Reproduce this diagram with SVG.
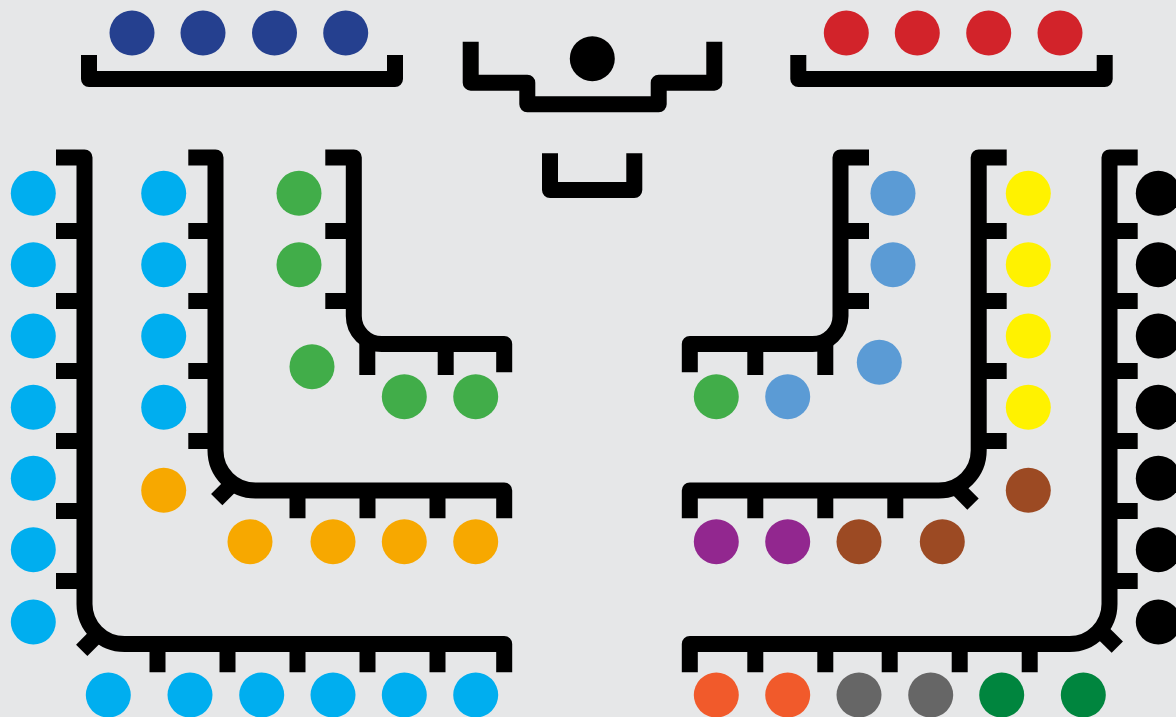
<svg xmlns="http://www.w3.org/2000/svg" width="1176" height="717" viewBox="0 0 1176 717">
<style>
.b{fill:none;stroke:#000;stroke-width:16;stroke-linejoin:round;stroke-linecap:butt}
.s{r:22.5}
.sky{fill:#00aeef}.navy{fill:#25408f}.red{fill:#d2232a}.grn{fill:#41ad49}.org{fill:#f7a800}
.lb{fill:#5b9bd5}.yel{fill:#fff200}.brn{fill:#9c4a23}.pur{fill:#92278f}.blk{fill:#000}
.ore{fill:#f15a2b}.gry{fill:#666666}.dg{fill:#00853e}
</style>
<rect width="1176" height="717" fill="#e6e7e8"/>
<g id="benches">
  <g id="bench-top-left"><path class="b" d="M89,55 V79 H395 V55"/></g>
  <g id="bench-top-right"><path class="b" d="M798.3,55 V79 H1104.7 V55"/></g>
  <g id="speaker-bench"><path class="b" d="M470.7,41.7 V82.7 H527.3 V104.3 H658.7 V82.7 H714.3 V41.7"/></g>
  <g id="clerk-table"><path class="b" d="M550,153.3 V190 H634.3 V153.3"/></g>
  <g id="bench-L1">
    <path class="b" d="M56,157.5 H84.5 V604 A40,40 0 0 0 124.5,644 H504.2 V672.3"/>
    <path class="b" d="M56,231H84.5M56,301H84.5M56,371H84.5M56,441H84.5M56,511H84.5M56,581H84.5"/>
    <path class="b" d="M157.5,644V672.3M227.5,644V672.3M297.5,644V672.3M367.5,644V672.3M437.5,644V672.3"/>
    <path class="b" d="M97,635 L81.7,650.3"/>
  </g>
  <g id="bench-L2">
    <path class="b" d="M188.3,157.5 H215.5 V450.5 A40,40 0 0 0 255.5,490.5 H504.2 V518.3"/>
    <path class="b" d="M188.3,231H215.5M188.3,301H215.5M188.3,371H215.5M188.3,441H215.5"/>
    <path class="b" d="M297.5,490.5V518.3M367.5,490.5V518.3M437.5,490.5V518.3"/>
    <path class="b" d="M233,483.4 L216.7,499.7"/>
  </g>
  <g id="bench-L3">
    <path class="b" d="M325.3,157.5 H353.8 V316 A28,28 0 0 0 381.8,344 H504.2 V372.3"/>
    <path class="b" d="M325.3,231H353.8M325.3,301H353.8"/>
    <path class="b" d="M367.3,336V375M445.7,344V375"/>
  </g>
  <g id="bench-R3">
    <path class="b" d="M869,157.5 H840.5 V316 A28,28 0 0 1 812.5,344 H689.8 V372.3"/>
    <path class="b" d="M869,231H840.5M869,301H840.5"/>
    <path class="b" d="M755.3,344V375M825.3,336V375"/>
  </g>
  <g id="bench-R2">
    <path class="b" d="M1006.7,157.5 H978.7 V450.5 A40,40 0 0 1 938.7,490.5 H689.8 V518.3"/>
    <path class="b" d="M1006.7,231H978.7M1006.7,301H978.7M1006.7,371H978.7M1006.7,441H978.7"/>
    <path class="b" d="M755.3,490.5V518.3M825.3,490.5V518.3M895.3,490.5V518.3"/>
    <path class="b" d="M958,489 L973,504.2"/>
  </g>
  <g id="bench-R1">
    <path class="b" d="M1137.7,157.5 H1109.5 V604 A40,40 0 0 1 1069.5,644 H689.8 V672.3"/>
    <path class="b" d="M1137.7,231H1109.5M1137.7,301H1109.5M1137.7,371H1109.5M1137.7,441H1109.5M1137.7,511H1109.5M1137.7,581H1109.5"/>
    <path class="b" d="M755.3,644V672.3M825.3,644V672.3M889.7,644V672.3M959.7,644V672.3M1029.7,644V672.3"/>
    <path class="b" d="M1100,630 L1117.3,647.2"/>
  </g>
</g>
<g id="seats">
  <g id="speaker"><circle class="blk" cx="592.3" cy="58.7" r="22.5"/></g>
  <g id="party-navy" class="navy">
    <circle cx="132" cy="33" r="22.5"/><circle cx="203" cy="33" r="22.5"/><circle cx="274.5" cy="33" r="22.5"/><circle cx="345.7" cy="33" r="22.5"/>
  </g>
  <g id="party-red" class="red">
    <circle cx="846.3" cy="33" r="22.5"/><circle cx="917.3" cy="33" r="22.5"/><circle cx="988.7" cy="33" r="22.5"/><circle cx="1060" cy="33" r="22.5"/>
  </g>
  <g id="party-skyblue" class="sky">
    <circle cx="33.3" cy="193.3" r="22.5"/><circle cx="33.3" cy="264.7" r="22.5"/><circle cx="33.3" cy="336" r="22.5"/><circle cx="33.3" cy="407.3" r="22.5"/><circle cx="33.3" cy="478.3" r="22.5"/><circle cx="33.3" cy="549.7" r="22.5"/><circle cx="33.3" cy="622" r="22.5"/>
    <circle cx="163.7" cy="193.3" r="22.5"/><circle cx="163.7" cy="264.7" r="22.5"/><circle cx="163.7" cy="336" r="22.5"/><circle cx="163.7" cy="407.3" r="22.5"/>
    <circle cx="108.3" cy="695" r="22.5"/><circle cx="190" cy="695" r="22.5"/><circle cx="261.7" cy="695" r="22.5"/><circle cx="333" cy="695" r="22.5"/><circle cx="404.3" cy="695" r="22.5"/><circle cx="475.7" cy="695" r="22.5"/>
  </g>
  <g id="party-orange" class="org">
    <circle cx="163.7" cy="490.3" r="22.5"/><circle cx="250" cy="541.7" r="22.5"/><circle cx="333" cy="541.7" r="22.5"/><circle cx="404.3" cy="541.7" r="22.5"/><circle cx="475.7" cy="541.7" r="22.5"/>
  </g>
  <g id="party-green" class="grn">
    <circle cx="299" cy="193.3" r="22.5"/><circle cx="299" cy="264.7" r="22.5"/><circle cx="312" cy="366.7" r="22.5"/><circle cx="404.3" cy="396.7" r="22.5"/><circle cx="475.7" cy="396.7" r="22.5"/><circle cx="716.3" cy="396.7" r="22.5"/>
  </g>
  <g id="party-lightblue" class="lb">
    <circle cx="893" cy="193.3" r="22.5"/><circle cx="893" cy="264.7" r="22.5"/><circle cx="879.3" cy="362.3" r="22.5"/><circle cx="787.7" cy="396.7" r="22.5"/>
  </g>
  <g id="party-yellow" class="yel">
    <circle cx="1028.3" cy="193.3" r="22.5"/><circle cx="1028.3" cy="264.7" r="22.5"/><circle cx="1028.3" cy="336" r="22.5"/><circle cx="1028.3" cy="407.3" r="22.5"/>
  </g>
  <g id="party-brown" class="brn">
    <circle cx="1028.3" cy="490.3" r="22.5"/><circle cx="859" cy="541.7" r="22.5"/><circle cx="942.3" cy="541.7" r="22.5"/>
  </g>
  <g id="party-purple" class="pur">
    <circle cx="716.3" cy="541.7" r="22.5"/><circle cx="787.7" cy="541.7" r="22.5"/>
  </g>
  <g id="party-black" class="blk">
    <circle cx="1158.3" cy="193.3" r="22.5"/><circle cx="1158.3" cy="264.7" r="22.5"/><circle cx="1158.3" cy="336" r="22.5"/><circle cx="1158.3" cy="407.3" r="22.5"/><circle cx="1158.3" cy="478.3" r="22.5"/><circle cx="1158.3" cy="549.7" r="22.5"/><circle cx="1158.3" cy="622" r="22.5"/>
  </g>
  <g id="party-orangered" class="ore">
    <circle cx="716.3" cy="695" r="22.5"/><circle cx="787.7" cy="695" r="22.5"/>
  </g>
  <g id="party-grey" class="gry">
    <circle cx="859" cy="695" r="22.5"/><circle cx="930.7" cy="695" r="22.5"/>
  </g>
  <g id="party-darkgreen" class="dg">
    <circle cx="1001.7" cy="695" r="22.5"/><circle cx="1083.3" cy="695" r="22.5"/>
  </g>
</g>
</svg>
